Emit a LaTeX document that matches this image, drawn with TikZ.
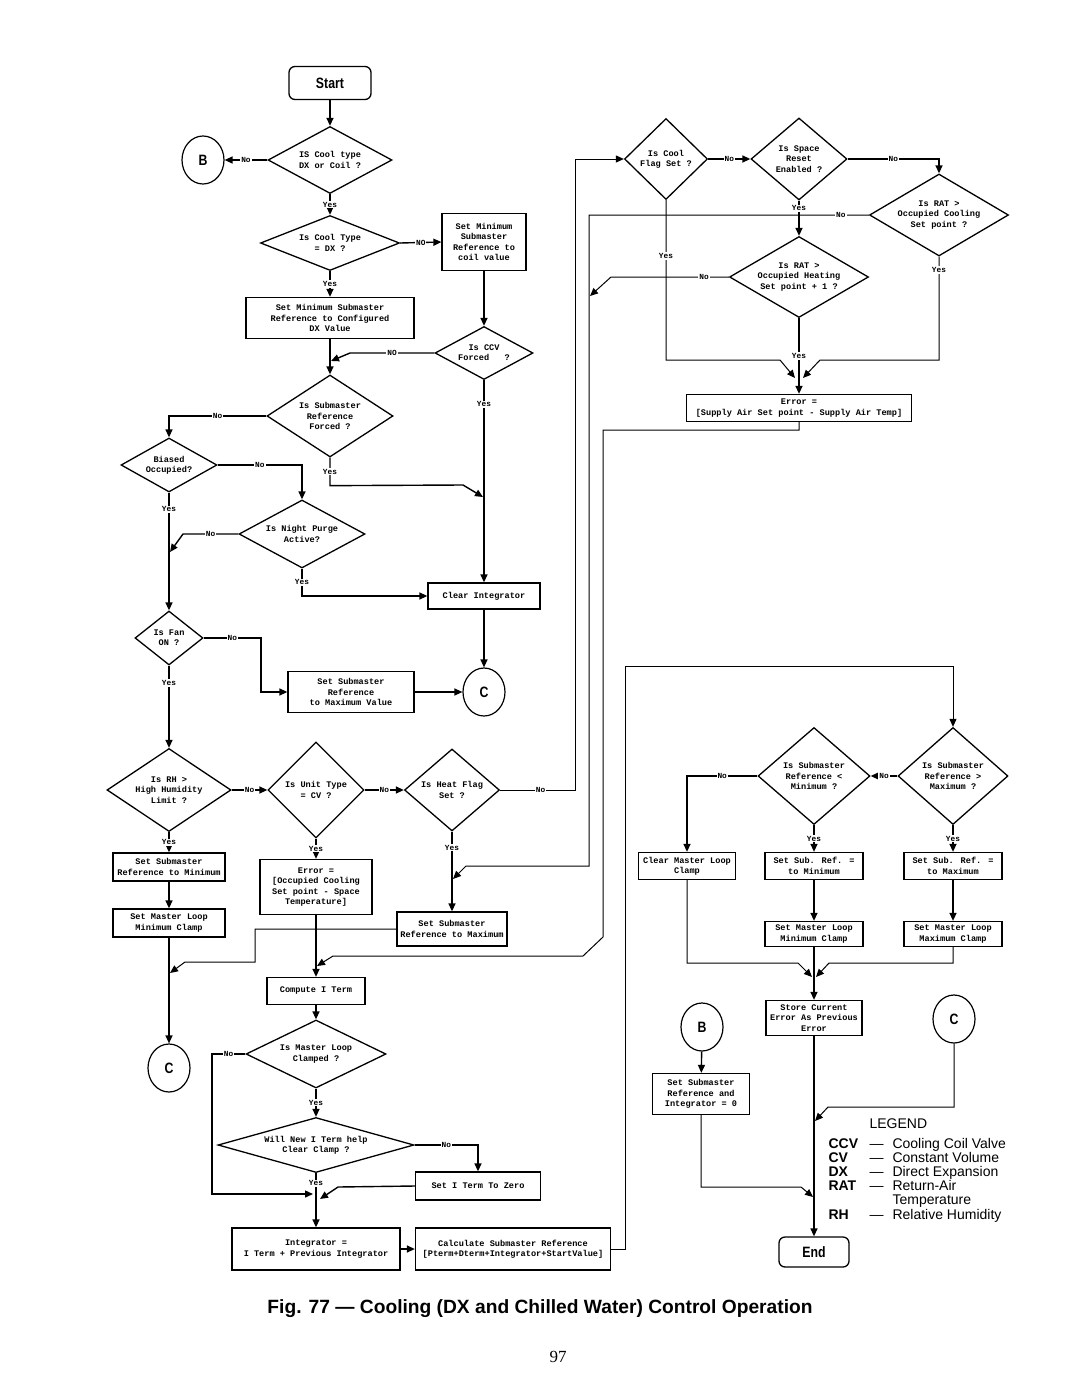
\documentclass[tikz,border=0pt]{standalone}
\usepackage{fontspec}
\setmainfont{Liberation Serif}
\newfontfamily\monofnt{Liberation Mono}
\newfontfamily\arialfnt{Liberation Sans}
\newfontfamily\condfnt[FakeStretch=0.82]{Liberation Sans}
\usepackage{tikz}
\usetikzlibrary{shapes.geometric,arrows.meta}

\newcommand{\legitem}[2]{\makebox[41pt][l]{\bfseries #1}\makebox[23pt][l]{—}#2}

\begin{document}
\begin{tikzpicture}[x=1pt,y=-1pt,
	every node/.style={font=\monofnt\bfseries\fontsize{8.6}{10.3}\selectfont},
	flow/.style={line width=1.4pt,-{Triangle[length=8pt,width=7pt]}},
	thinflow/.style={line width=1pt,-{Triangle[length=8pt,width=7pt]}},
	box/.style 2 args={draw,line width=1.3pt,align=center,inner sep=1pt,minimum width=#1,minimum height=#2},
	dec/.style n args={3}{diamond,draw,line width=1.3pt,align=center,inner sep=0pt,minimum width=#1,minimum height=#2,aspect=#3},
	term/.style={draw,line width=1.3pt,rounded corners=6pt,minimum width=82pt,minimum height=33pt,font=\condfnt\bfseries\fontsize{15}{15}\selectfont},
	conn/.style={ellipse,draw,line width=1.2pt,minimum width=42pt,minimum height=48pt,inner sep=0pt,font=\condfnt\bfseries\fontsize{15}{15}\selectfont},
	lbl/.style={fill=white,inner sep=1pt,font=\monofnt\bfseries\fontsize{7.8}{8}\selectfont},
	legrow/.style={anchor=base west,font=\arialfnt\fontsize{14}{14}\selectfont}]
	
	\useasboundingbox (0,0) rectangle (1080,1397);
	
	\node[term] (start) at (330,83) {Start};
	\node[dec={124pt}{67pt}{1.85}] (qtype) at (330,160) {IS Cool type\\DX or Coil ?};
	\node[conn] (b1) at (203,160) {B};
	\node[dec={139pt}{55pt}{2.5}] (qdx) at (330,243) {Is Cool Type\\= DX ?};
	\node[box={84pt}{57pt}] (setcoil) at (484,242) {Set Minimum\\Submaster\\Reference to\\coil value};
	\node[box={168pt}{41pt}] (setdx) at (330,318) {Set Minimum Submaster\\Reference to Configured\\DX Value};
	\node[dec={98pt}{53pt}{1.85}] (qccv) at (484,353) {Is CCV\\Forced\ \ \ ?};
	\node[dec={126pt}{82pt}{1.54}] (qforced) at (330,416) {Is Submaster\\Reference\\Forced ?};
	\node[dec={96pt}{54pt}{1.78}] (qbiased) at (169,465) {Biased\\Occupied?};
	\node[dec={126pt}{68pt}{1.85}] (qpurge) at (302,534) {Is Night Purge\\Active?};
	\node[box={112pt}{26pt}] (clearint) at (484,596) {Clear Integrator};
	\node[dec={68pt}{54pt}{1.26}] (qfan) at (169,638) {Is Fan\\ON ?};
	\node[box={126pt}{41pt}] (setmaxval) at (351,692) {Set Submaster\\Reference\\to Maximum Value};
	\node[conn] (c1) at (484,692) {C};
	
	\node[dec={124pt}{83pt}{1.49}] (qrh) at (169,790) {Is RH >\\High Humidity\\Limit ?};
	\node[dec={96pt}{96pt}{1}] (qcv) at (316,790) {Is Unit Type\\= CV ?};
	\node[dec={95pt}{82pt}{1.16}] (qheat) at (452,790) {Is Heat Flag\\Set ?};
	\node[box={112pt}{28pt}] (setmin) at (169,867) {Set Submaster\\Reference to Minimum};
	\node[box={112pt}{28pt}] (minclamp) at (169,923) {Set Master Loop\\Minimum Clamp};
	\node[conn] (c2) at (169,1068) {C};
	\node[box={112pt}{55pt}] (errocc) at (316,887) {Error =\\{[}Occupied Cooling\\Set point - Space\\Temperature]};
	\node[box={110pt}{34pt}] (setmax) at (452,929) {Set Submaster\\Reference to Maximum};
	\node[box={98pt}{27pt}] (cterm) at (316,991) {Compute I Term};
	\node[dec={140pt}{68pt}{2.06}] (qclamped) at (316,1054) {Is Master Loop\\Clamped ?};
	\node[dec={196pt}{55pt}{3.56}] (qhelp) at (316,1145) {Will New I Term help\\Clear Clamp ?};
	\node[box={125pt}{28pt}] (setzero) at (478,1186) {Set I Term To Zero};
	\node[box={168pt}{42pt}] (integ) at (316,1249) {Integrator =\\I Term + Previous Integrator};
	\node[box={195pt}{42pt}] (calcsub) at (513,1249) {Calculate Submaster Reference\\{[}Pterm+Dterm+Integrator+StartValue]};
	
	\node[dec={83pt}{81pt}{1.02}] (qcool) at (666,159) {Is Cool\\Flag Set ?};
	\node[dec={96pt}{82pt}{1.17}] (qreset) at (799,159) {Is Space\\Reset\\Enabled ?};
	\node[dec={139pt}{82pt}{1.7}] (qratc) at (939,215) {Is RAT >\\Occupied Cooling\\Set point ?};
	\node[dec={139pt}{81pt}{1.72}] (qrath) at (799,277) {Is RAT >\\Occupied Heating\\Set point + 1 ?};
	\node[box={225pt}{27pt}] (errsa) at (799,408) {Error =\\{[}Supply Air Set point - Supply Air Temp]};
	
	\node[dec={110pt}{97pt}{1.13}] (qgtmax) at (953,776) {Is Submaster\\Reference >\\Maximum ?};
	\node[dec={112pt}{97pt}{1.15}] (qltmin) at (814,776) {Is Submaster\\Reference <\\Minimum ?};
	\node[box={97pt}{27pt}] (clearclamp) at (687,866) {Clear Master Loop\\Clamp};
	\node[box={98pt}{27pt}] (subrefmin) at (814,866) {Set Sub. Ref. =\\to Minimum};
	\node[box={98pt}{27pt}] (subrefmax) at (953,866) {Set Sub. Ref. =\\to Maximum};
	\node[box={98pt}{25pt}] (minclamp2) at (814,934) {Set Master Loop\\Minimum Clamp};
	\node[box={98pt}{25pt}] (maxclamp) at (953,934) {Set Master Loop\\Maximum Clamp};
	\node[box={96pt}{35pt}] (store) at (814,1018) {Store Current\\Error As Previous\\Error};
	\node[conn] (b2) at (702,1027) {B};
	\node[conn] (c3) at (954,1019) {C};
	\node[box={97pt}{41pt}] (setsubint) at (701,1094) {Set Submaster\\Reference and\\Integrator = 0};
	\node[term,minimum width=70pt,minimum height=30pt] (finish) at (814,1252) {End};
	
	\coordinate (jccv) at (331,361);
	\coordinate (jforced) at (483,497);
	\coordinate (jpurge) at (170,552);
	\coordinate (jheat) at (453,879);
	\coordinate (jrath) at (590,296);
	\coordinate (jerr) at (317,966);
	\coordinate (jsetmax) at (170,973);
	\coordinate (jclampl) at (313,1194);
	\coordinate (jzero) at (320,1199);
	\coordinate (jcool) at (795,378);
	\coordinate (jratc) at (803,378);
	\coordinate (jclear) at (812,977);
	\coordinate (jmax) at (816,977);
	\coordinate (jc3) at (815,1121);
	\coordinate (jsub) at (813,1197);
	
	\draw[flow] (start) -- (qtype);
	\draw[flow] (qtype.west) -- node[lbl] {No} (b1.east);
	\draw[flow] (qtype.south) -- node[lbl] {Yes} (qdx.north);
	\draw[flow] (qdx.east) -- node[lbl] {NO} (setcoil.west);
	\draw[flow] (qdx.south) -- node[lbl] {Yes} (setdx.north);
	\draw[flow] (setcoil) -- (qccv);
	\draw[flow] (setdx) -- (qforced);
	\draw[flow] (qccv.west) -- node[lbl] {NO} (350,353) -- (jccv);
	\draw[flow] (qccv.south) -- node[lbl,pos=.12] {Yes} (clearint.north);
	\draw[flow] (qforced.west) -| node[lbl,pos=.25] {No} (qbiased.north);
	\draw[flow] (qforced.south) -- node[lbl] {Yes} ++(0,28) -- (463,485) -- (jforced);
	\draw[flow] (qbiased.east) -| node[lbl,pos=.25] {No} (qpurge.north);
	\draw[flow] (qbiased.south) -- node[lbl,pos=.14] {Yes} (qfan.north);
	\draw[flow] (qpurge.west) -- node[lbl] {No} (183,534) -- (jpurge);
	\draw[flow] (qpurge.south) |- node[lbl,pos=.25] {Yes} (clearint.west);
	\draw[flow] (clearint) -- (c1);
	\draw[flow] (qfan.east) -- node[lbl] {No} (261,638) |- (setmaxval.west);
	\draw[flow] (setmaxval) -- (c1);
	\draw[flow] (qfan.south) -- node[lbl,pos=.21] {Yes} (qrh.north);
	
	\draw[flow] (qrh.east) -- node[lbl] {No} (qcv.west);
	\draw[flow] (qcv.east) -- node[lbl] {No} (qheat.west);
	\draw[thinflow] (qheat.east) -- node[lbl,pos=.54] {No} (575,790) |- (qcool.west);
	\draw[flow] (qrh.south) -- node[lbl] {Yes} (setmin.north);
	\draw[flow] (setmin) -- (minclamp);
	\draw[flow] (minclamp) -- (c2);
	\draw[flow] (qcv.south) -- node[lbl] {Yes} (errocc.north);
	\draw[flow] (errocc) -- (cterm);
	\draw[flow] (qheat.south) -- node[lbl,pos=.2] {Yes} (setmax.north);
	\draw[thinflow] (qratc.west) -- node[lbl,pos=.1] {No} (589,215) -- (589,866) -- (466,866) -- (jheat);
	\draw[thinflow] (qrath.west) -- node[lbl,pos=.21] {No} (611,277) -- (jrath);
	\draw[thinflow] (errsa.south) -- ++(0,8) -| (603,937) -- (583,956) -- (333,956) -- (jerr);
	\draw[thinflow] (setmax.west) -- (255,929) -- (255,962) -- (185,962) -- (jsetmax);
	\draw[flow] (cterm) -- (qclamped);
	\draw[flow] (qclamped.west) -- node[lbl] {No} (212,1054) |- (jclampl);
	\draw[flow] (qclamped.south) -- node[lbl] {Yes} (qhelp.north);
	\draw[flow] (qhelp.east) -| node[lbl,pos=.25] {No} (setzero.north);
	\draw[flow] (setzero.west) -- (338,1187) -- (jzero);
	\draw[flow] (qhelp.south) -- node[lbl,pos=.19] {Yes} (integ.north);
	\draw[flow] (integ) -- (calcsub);
	\draw[thinflow] (calcsub.east) -| (625,666) -| (qgtmax.north);
	
	\draw[flow] (qcool.east) -- node[lbl] {No} (qreset.west);
	\draw[flow] (qreset.east) -| node[lbl,pos=.25] {No} (qratc.north);
	\draw[flow] (qreset.south) -- node[lbl,pos=.22] {Yes} (qrath.north);
	\draw[thinflow] (qcool.south) -- node[lbl,pos=.35] {Yes} (666,360) -- (780,360) -- (jcool);
	\draw[thinflow] (qratc.south) -- node[lbl,pos=.13] {Yes} (939,360) -- (820,360) -- (jratc);
	\draw[flow] (qrath.south) -- node[lbl] {Yes} (errsa.north);
	
	\draw[flow] (qgtmax.west) -- node[lbl] {No} (qltmin.east);
	\draw[flow] (qltmin.west) -| node[lbl,pos=.25] {No} (clearclamp.north);
	\draw[flow] (qltmin.south) -- node[lbl] {Yes} (subrefmin.north);
	\draw[flow] (qgtmax.south) -- node[lbl] {Yes} (subrefmax.north);
	\draw[flow] (subrefmin) -- (minclamp2);
	\draw[flow] (subrefmax) -- (maxclamp);
	\draw[flow] (minclamp2) -- (store);
	\draw[thinflow] (clearclamp.south) |- (798,963) -- (jclear);
	\draw[thinflow] (maxclamp.south) |- (829,963) -- (jmax);
	\draw[flow] (store) -- (finish);
	\draw[flow] (b2) -- (setsubint);
	\draw[thinflow] (c3.south) |- (828,1107) -- (jc3);
	\draw[thinflow] (setsubint.south) |- (801,1187) -- (jsub);
	
	\node[legrow] (leghead) at (866,1128) {LEGEND};
	\node[legrow] (leg1) at (825,1148) {\legitem{CCV}{Cooling Coil Valve}};
	\node[legrow] (leg2) at (825,1162) {\legitem{CV}{Constant Volume}};
	\node[legrow] (leg3) at (825,1176) {\legitem{DX}{Direct Expansion}};
	\node[legrow] (leg4) at (825,1190) {\legitem{RAT}{Return-Air}};
	\node[legrow] (leg5) at (825,1204) {\hspace*{64pt}Temperature};
	\node[legrow] (leg6) at (825,1219) {\legitem{RH}{Relative Humidity}};
	
	\node[font=\arialfnt\bfseries\fontsize{19.2}{21}\selectfont] (caption) at (540,1309) {Fig. 77 — Cooling (DX and Chilled Water) Control Operation};
	\node[font=\rmfamily\fontsize{17}{17}\selectfont] (pagenum) at (558,1357) {97};
	
\end{tikzpicture}
\end{document}
